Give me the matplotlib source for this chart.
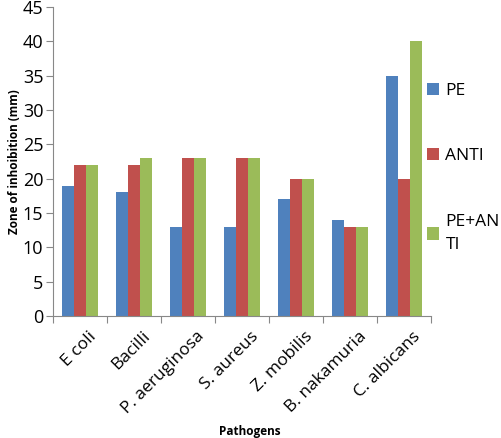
import numpy as np
import matplotlib
matplotlib.use("Agg")
import matplotlib.pyplot as plt

pathogens = ["E coli", "Bacilli", "P. aeruginosa", "S. aureus", "Z. mobilis",
             "B. nakamuria", "C. albicans"]
pe = [19, 18, 13, 13, 17, 14, 35]
anti = [22, 22, 23, 23, 20, 13, 20]
pe_anti = [22, 23, 23, 23, 20, 13, 40]
series_names = ["PE", "ANTI", "PE+AN\nTI"]
colors = ["#4F81BD", "#C0504D", "#9BBB59"]

plt.rcParams['font.family'] = ['Open Sans', 'DejaVu Sans']

fig = plt.figure(figsize=(5.02, 4.38), dpi=100)
ax = fig.add_axes([53 / 502, 1 - 316 / 438, 378 / 502, 309 / 438])

x = np.arange(len(pathogens))
w = 0.222
for i, (vals, name) in enumerate(zip([pe, anti, pe_anti], series_names)):
    ax.bar(x + (i - 1) * w, vals, w, color=colors[i], label=name)

ax.set_xlim(-0.5, len(pathogens) - 0.5)
ax.set_ylim(0, 45)
ax.set_yticks(range(0, 46, 5))
ax.set_xticks(np.arange(-0.5, len(pathogens), 1), minor=False)
ax.set_xticklabels([])
ax.set_xticks(x + 0.15, minor=True)
ax.set_xticklabels(pathogens, minor=True, rotation=45, ha='right',
                   rotation_mode='anchor', fontsize=12.5)
ax.tick_params(axis='x', which='minor', length=0, pad=9)
ax.tick_params(axis='x', which='major', length=5, color='#888888')
ax.tick_params(axis='y', labelsize=13, length=5, color='#888888', pad=2)

for s in ['top', 'right']:
    ax.spines[s].set_visible(False)
for s in ['left', 'bottom']:
    ax.spines[s].set_color('#888888')

ax.set_ylabel("Zone of inhoibition (mm)", fontsize=8.5, fontweight='bold', labelpad=1)
fig.text(250 / 502, 1 - 431 / 438, "Pathogens", fontsize=8.5, fontweight='bold',
         ha='center', va='center')

leg = ax.legend(loc='upper left', bbox_to_anchor=(0.99, 0.755), frameon=False,
                fontsize=12.5, labelspacing=2.85, handlelength=0.7, handleheight=0.7,
                handletextpad=0.35, borderaxespad=0.0, borderpad=0.0)
for t in leg.get_texts():
    t.set_linespacing(1.6)

fig.savefig("out.png", dpi=100)
